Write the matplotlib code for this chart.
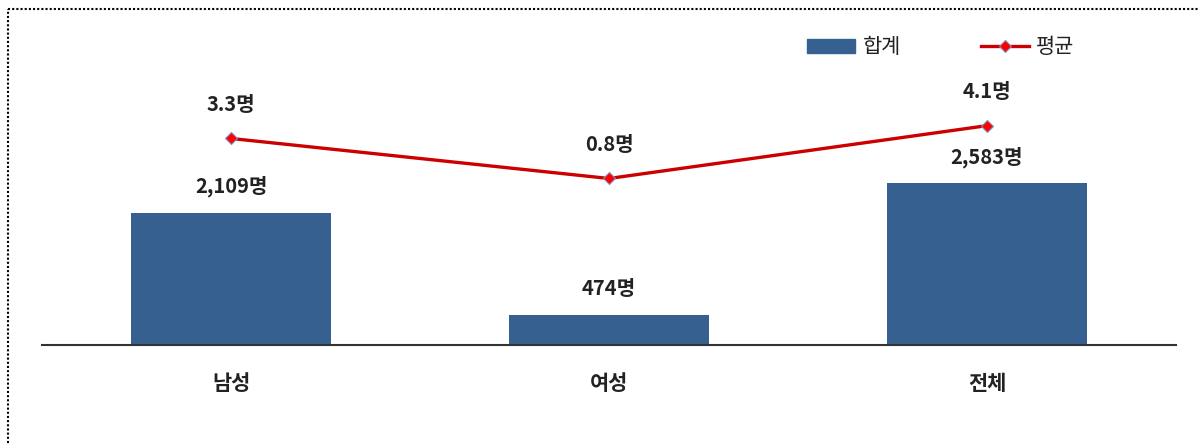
import matplotlib.pyplot as plt
import numpy as np
from matplotlib.lines import Line2D
from matplotlib.patches import Rectangle

plt.rcParams['font.family'] = ['Noto Sans CJK KR', 'DejaVu Sans']

# data
categories = ['남성', '여성', '전체']
totals = [2109, 474, 2583]
averages = [3.3, 0.8, 4.1]
total_labels = ['2,109명', '474명', '2,583명']
avg_labels = ['3.3명', '0.8명', '4.1명']

bar_color = '#36608f'
line_color = '#cc0000'

fig = plt.figure(figsize=(11.98, 4.43), dpi=100)
ax = fig.add_axes([42/1198, 1-345/443, 1134/1198, 313/443])
x = np.arange(len(categories))

ax.bar(x, totals, width=0.527, color=bar_color, zorder=2)
ax.set_xlim(-0.5, 2.5)
ax.set_ylim(0, 5000)
for i, v in enumerate(totals):
    ax.annotate(total_labels[i], (x[i], v), xytext=(0, 19), textcoords='offset points',
                ha='center', va='center', fontsize=14.5, fontweight='bold', color='#222222')

for s in ['top', 'right', 'left']:
    ax.spines[s].set_visible(False)
ax.spines['bottom'].set_color('#333333')
ax.spines['bottom'].set_linewidth(1.5)
ax.set_yticks([])
ax.set_xticks(x)
ax.set_xticklabels(categories, fontsize=15, fontweight='bold', color='#222222')
ax.tick_params(axis='x', length=0, pad=20)

ax2 = ax.twinx()
ax2.plot(x, averages, color=line_color, lw=2.4, marker='D', markersize=6,
         markerfacecolor='#ff0000', markeredgecolor='#8090c0', markeredgewidth=0.8, zorder=3)
ax2.set_ylim(-9.6, 9.95)
ax2.axis('off')
for i, v in enumerate(averages):
    ax2.annotate(avg_labels[i], (x[i], v), xytext=(0, 24.5), textcoords='offset points',
                 ha='center', va='center', fontsize=14.5, fontweight='bold', color='#222222')

handles = [Rectangle((0, 0), 1, 1, color=bar_color),
           Line2D([0], [0], color=line_color, lw=2.4, marker='D', markersize=6,
                  markerfacecolor='#ff0000', markeredgecolor='#8090c0', markeredgewidth=0.8)]
leg = fig.legend(handles, ['합계', '평균'], loc='center', bbox_to_anchor=(941/1198, 1-47/443),
                 ncol=2, frameon=False, fontsize=15, handlelength=2.3, handleheight=0.67,
                 columnspacing=3.85, handletextpad=0.35, borderpad=0)
for t in leg.get_texts():
    t.set_color('#222222')
    t.set_fontweight('medium')

# dotted frame
fig.add_artist(Line2D([8/1198, 8/1198], [0, 1-9/443], transform=fig.transFigure,
                      color='black', lw=1.5, ls=(0, (1, 1))))
fig.add_artist(Line2D([8/1198, 1], [1-9/443, 1-9/443], transform=fig.transFigure,
                      color='black', lw=1.5, ls=(0, (1, 1))))

fig.savefig('out.png', dpi=100)
